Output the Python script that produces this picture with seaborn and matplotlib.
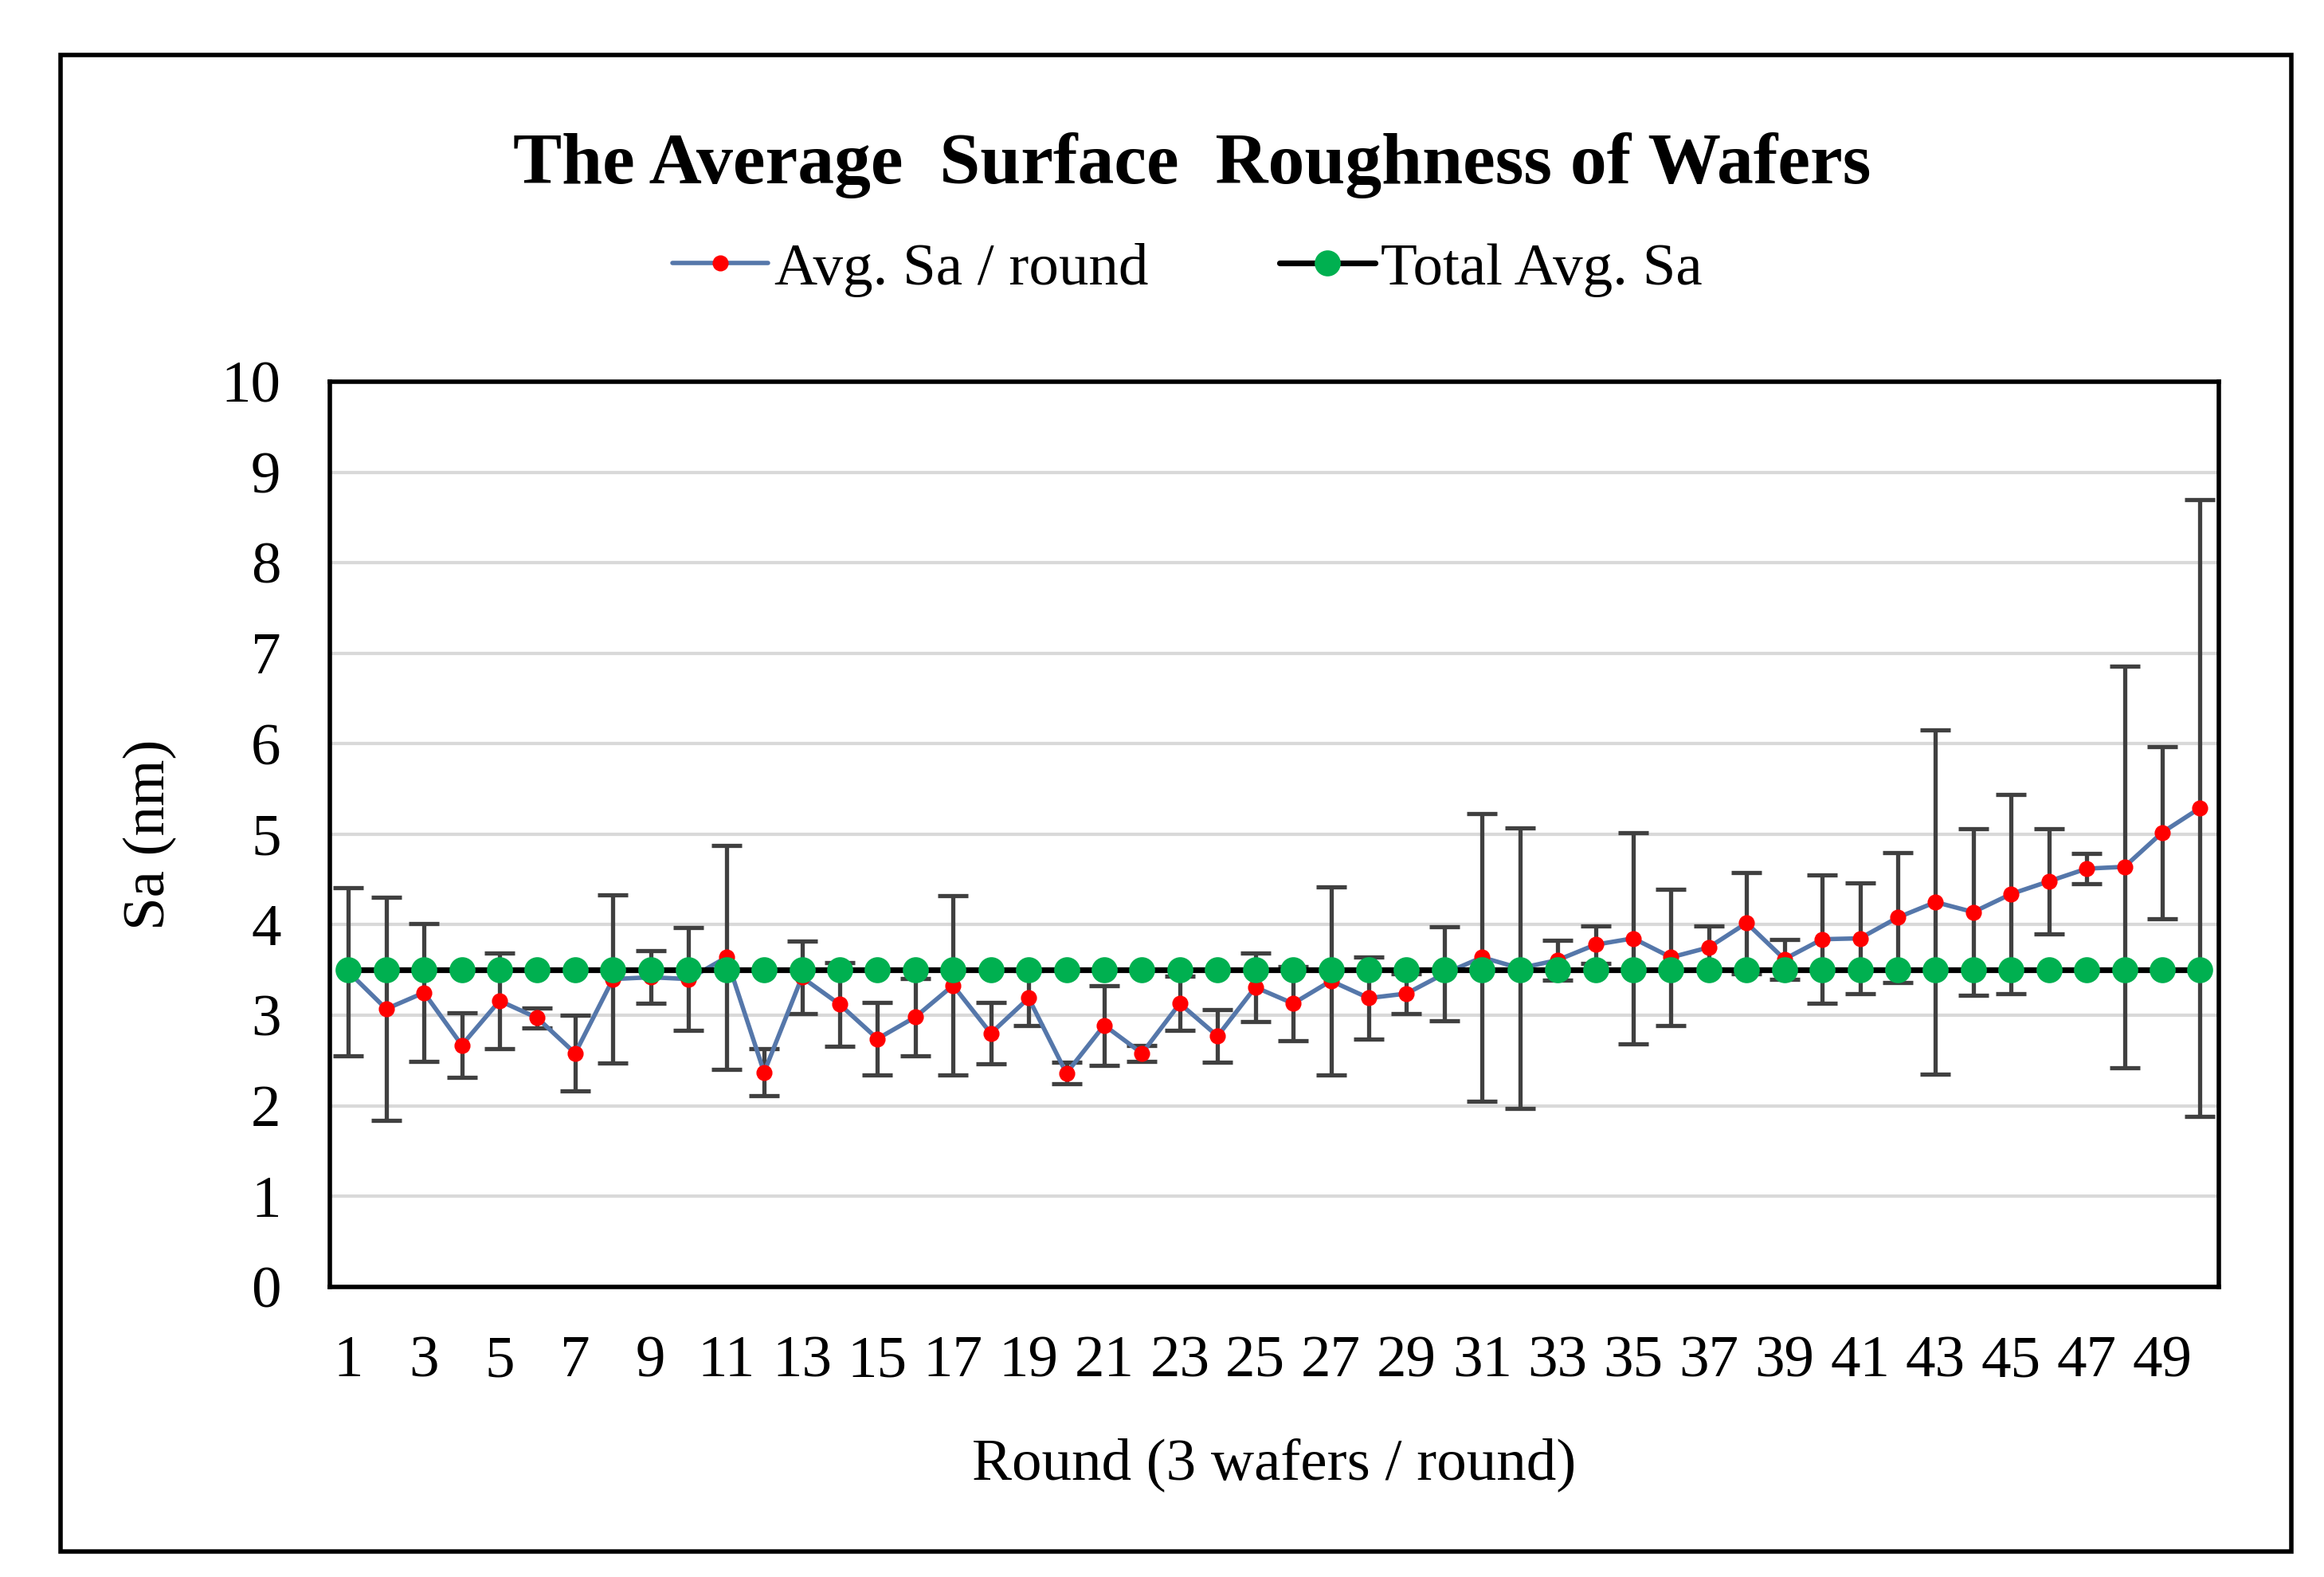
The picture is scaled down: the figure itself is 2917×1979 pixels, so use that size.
import numpy as np
import pandas as pd
import seaborn as sns
import matplotlib.pyplot as plt
from matplotlib.patches import Rectangle

# values
rounds = list(range(1, 51))
avg_sa = [3.48, 3.07, 3.25, 2.67, 3.16, 2.97, 2.58, 3.40, 3.42, 3.40,
          3.64, 2.37, 3.42, 3.12, 2.74, 2.98, 3.33, 2.80, 3.19, 2.36,
          2.89, 2.58, 3.13, 2.77, 3.31, 3.13, 3.38, 3.19, 3.24, 3.46,
          3.64, 3.52, 3.61, 3.78, 3.85, 3.64, 3.75, 4.02, 3.62, 3.84,
          3.85, 4.08, 4.25, 4.14, 4.34, 4.48, 4.62, 4.64, 5.02, 5.29]
sa_err = [0.93, 1.23, 0.76, 0.36, 0.53, 0.11, 0.42, 0.93, 0.29, 0.57,
          1.24, 0.26, 0.40, 0.46, 0.40, 0.43, 0.99, 0.34, 0.30, 0.12,
          0.44, 0.09, 0.30, 0.29, 0.38, 0.41, 1.04, 0.45, 0.22, 0.52,
          1.59, 1.55, 0.22, 0.21, 1.17, 0.75, 0.24, 0.56, 0.22, 0.71,
          0.61, 0.72, 1.90, 0.92, 1.10, 0.58, 0.17, 2.22, 0.95, 3.41]
total_avg = [3.50] * 50
tick_labels = [str(r) for r in rounds if r % 2 == 1]

df = pd.DataFrame({"round": rounds, "avg": avg_sa, "err": sa_err, "total": total_avg})

sns.set_style("white")
plt.rcParams['font.family'] = ['Liberation Serif', 'DejaVu Serif']
plt.rcParams['text.color'] = 'black'
plt.rcParams['axes.labelcolor'] = 'black'
plt.rcParams['xtick.color'] = 'black'
plt.rcParams['ytick.color'] = 'black'

fig = plt.figure(figsize=(14.585, 9.895), dpi=200)
ax = fig.add_axes([0.1418, 0.184, 0.813, 0.574])

# error bars first so the markers sit on top
ax.errorbar(df["round"], df["avg"], yerr=df["err"], fmt="none", ecolor="#404040",
            elinewidth=1.9, capsize=7, capthick=1.9, zorder=2)

sns.lineplot(data=df, x="round", y="avg", ax=ax, color="#5577aa", linewidth=2,
             marker="o", markersize=6.5, markerfacecolor="#ff0000", markeredgecolor="#ff0000",
             label="Avg. Sa / round", zorder=3)
sns.lineplot(data=df, x="round", y="total", ax=ax, color="black", linewidth=2.6,
             marker="o", markersize=11, markerfacecolor="#00b050", markeredgecolor="#00b050",
             label="Total Avg. Sa", zorder=4)

ax.set_xlim(0.5, 50.5)
ax.set_ylim(0, 10)
ax.set_yticks(range(0, 11))
ax.set_xticks([r for r in rounds if r % 2 == 1])
ax.set_xticklabels(tick_labels)
ax.tick_params(axis="both", length=0, labelsize=27)
ax.tick_params(axis="x", pad=22)
ax.tick_params(axis="y", pad=22)
ax.yaxis.grid(True, color="#d9d9d9", linewidth=1.5)
ax.set_axisbelow(True)
for s in ax.spines.values():
    s.set_color("black")
    s.set_linewidth(2)

ax.set_xlabel("Round (3 wafers / round)", fontsize=27, labelpad=22)
ax.set_ylabel("Sa (nm)", fontsize=27, labelpad=20)

ax.legend(loc="center", bbox_to_anchor=(0.511, 0.829), bbox_transform=fig.transFigure,
          ncol=2, frameon=False, fontsize=27, handlelength=1.6, handletextpad=0.1,
          columnspacing=2.2)

fig.text(0.513, 0.895, "The Average  Surface  Roughness of Wafers", ha="center",
         va="center", fontsize=33, fontweight="bold")

fig.patches.append(Rectangle((0.026, 0.016), 0.96, 0.949, transform=fig.transFigure,
                             fill=False, edgecolor="black", linewidth=2))

fig.savefig("out.png", dpi=200, facecolor="white")
